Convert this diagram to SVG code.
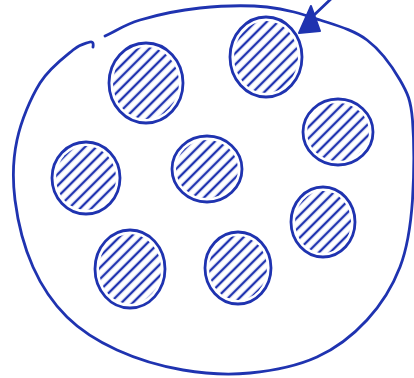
<svg xmlns="http://www.w3.org/2000/svg" width="414" height="378" viewBox="0 0 414 378">
  <defs>
    <pattern id="hatch" patternUnits="userSpaceOnUse" width="8" height="8" patternTransform="rotate(45)">
      <line x1="4" y1="-1" x2="4" y2="9" stroke="#1f33b0" stroke-width="2.4"/>
    </pattern>
  </defs>
  <style>
    .ink { fill: none; stroke: #1f33b0; stroke-width: 2.8; stroke-linecap: round; stroke-linejoin: round; }
    .fill { fill: url(#hatch); stroke: none; }
    .head { fill: #1f33b0; stroke: #1f33b0; stroke-width: 2; stroke-linejoin: round; }
  </style>
  <rect width="414" height="378" fill="#ffffff"/>
  <g id="outer">
    <path class="ink" d="M105,36 C116.7,30.7 124.2,24.7 140,20 C155.8,15.3 178.8,10.2 200,8 C221.2,5.8 247,5 267,7 C287,9 303.3,14.5 320,20 C336.7,25.5 353.7,30 367,40 C380.3,50 392.3,66.7 400,80 C407.7,93.3 410.8,100 412.5,120 C414,140 414,175.5 412.5,200 C410.8,224.5 407.7,247 400,267 C392.3,287 380.8,305 367,320 C353.2,335 336.5,348.2 317,357 C297.5,365.8 272.3,370.8 250,373 C227.7,375.2 205.2,373.8 183,370 C160.8,366.2 136.3,358.8 117,350 C97.7,341.2 81,330.8 67,317 C53,303.2 41.7,286.5 33,267 C24.3,247.5 17.7,221.2 15,200 C12.3,178.8 12.8,159.5 17,140 C21.2,120.5 30.7,98 40,83 C49.3,68 64.7,56.8 73,50 C81.3,43.2 84,44 90,42 Q94,41 93,47"/>
  </g>
  <g id="c1"><ellipse class="fill" cx="146" cy="83" rx="33" ry="36"/><ellipse class="ink" cx="146" cy="83" rx="37" ry="40"/></g>
  <g id="c2"><ellipse class="fill" cx="266" cy="57" rx="32" ry="36"/><ellipse class="ink" cx="266" cy="57" rx="36" ry="40"/></g>
  <g id="c3"><ellipse class="fill" cx="338" cy="132" rx="31" ry="29"/><ellipse class="ink" cx="338" cy="132" rx="35" ry="33"/></g>
  <g id="c4"><ellipse class="fill" cx="86" cy="178" rx="30" ry="32"/><ellipse class="ink" cx="86" cy="178" rx="34" ry="36"/></g>
  <g id="c5"><ellipse class="fill" cx="207" cy="169" rx="31" ry="29"/><ellipse class="ink" cx="207" cy="169" rx="35" ry="33"/></g>
  <g id="c6"><ellipse class="fill" cx="323" cy="222" rx="28" ry="31"/><ellipse class="ink" cx="323" cy="222" rx="32" ry="35"/></g>
  <g id="c7"><ellipse class="fill" cx="130" cy="269" rx="31" ry="35"/><ellipse class="ink" cx="130" cy="269" rx="35" ry="39"/></g>
  <g id="c8"><ellipse class="fill" cx="238" cy="268" rx="29" ry="32"/><ellipse class="ink" cx="238" cy="268" rx="33" ry="36"/></g>
  <g id="connectors">
    <line class="ink" x1="333" y1="-3" x2="312" y2="17"/>
    <polygon class="head" points="299,33 320,31 311,6"/>
  </g>
</svg>
